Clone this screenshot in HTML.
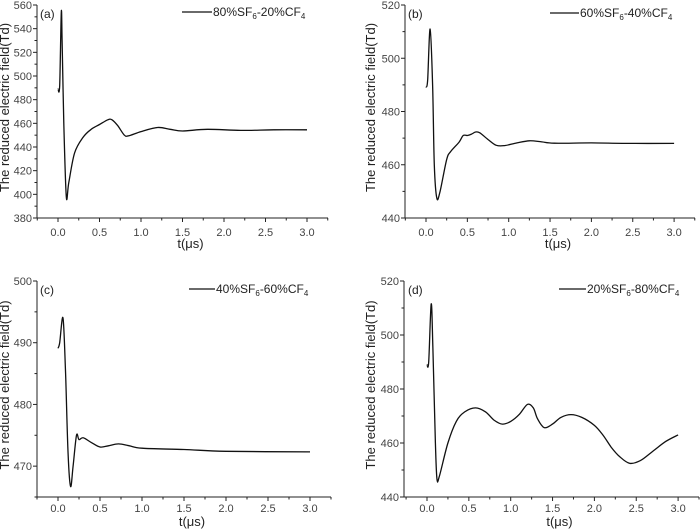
<!DOCTYPE html>
<html><head><meta charset="utf-8"><style>
html,body{margin:0;padding:0;background:#fff;}
svg{display:block;font-family:"Liberation Sans",Arial,sans-serif;}
</style></head><body>
<svg id="s" width="700" height="530" viewBox="0 0 700 530" xmlns="http://www.w3.org/2000/svg"></svg>
<script>
const NS="http://www.w3.org/2000/svg";
const s=document.getElementById('s');
function el(t,a,txt){const e=document.createElementNS(NS,t);for(const k in a)e.setAttribute(k,a[k]);if(txt!==undefined)e.innerHTML=txt;s.appendChild(e);return e;}
const panels=[
 {L:37,T:5,B:218,R:328,x0:58,sx:83,ymin:380,ymax:560,ystep:20,lab:'(a)',lx:40,tl:18,tt:30,
  leg:[182,212,12],mix:['80','20'],ytl:9,
  d:[[0,489],[0.02,492],[0.04,554],[0.05,530],[0.07,460],[0.1,398],[0.13,410],[0.2,435],[0.3,448],[0.4,455],[0.5,459],[0.6,463],[0.65,463],[0.72,458],[0.8,450],[0.85,449.5],[1.0,453],[1.2,456.5],[1.35,455],[1.5,453.5],[1.8,455],[2.2,454],[2.6,454.5],[3.0,454.5]]},
 {L:405,T:5,B:218,R:695,x0:426,sx:82.7,ymin:440,ymax:520,ystep:20,lab:'(b)',lx:408,tl:18,tt:30,
  leg:[550,579,13],mix:['60','40'],ytl:375,
  d:[[0,489],[0.02,492],[0.05,511],[0.08,490],[0.1,460],[0.13,447.5],[0.17,450],[0.25,462],[0.3,465],[0.4,468.5],[0.45,471],[0.5,471],[0.55,471.5],[0.6,472.3],[0.65,472],[0.75,469.5],[0.85,467.3],[0.95,467.2],[1.1,468.2],[1.25,469],[1.4,468.6],[1.55,468.1],[2.0,468.2],[2.5,468],[3.0,468]]},
 {L:37,T:281,B:497,R:331,x0:58,sx:84,ymin:465,ymax:500,ystep:10,lab:'(c)',lx:40,tl:15,tt:29,
  leg:[189,215,289],mix:['40','60'],ytl:9,
  d:[[0,489.1],[0.02,490],[0.06,494],[0.09,485],[0.12,472],[0.15,466.7],[0.18,470],[0.22,475],[0.25,474.3],[0.3,474.6],[0.4,473.8],[0.5,473.1],[0.6,473.3],[0.72,473.6],[0.85,473.3],[1.0,472.9],[1.5,472.7],[2.0,472.4],[3.0,472.3]]},
 {L:404,T:281,B:497,R:699,x0:427,sx:83.7,ymin:440,ymax:520,ystep:20,lab:'(d)',lx:408,tl:15,tt:29,
  leg:[559,586,289],mix:['20','80'],ytl:375,
  d:[[0,489],[0.02,490],[0.05,511.5],[0.07,495],[0.1,460],[0.12,446.5],[0.15,448],[0.25,460],[0.35,468],[0.45,471.5],[0.58,473],[0.7,471.5],[0.8,468.5],[0.9,467],[1.0,468],[1.1,470.5],[1.2,474.3],[1.27,473],[1.32,469],[1.4,465.7],[1.5,467],[1.6,469.5],[1.72,470.5],[1.85,469.5],[2.0,466.5],[2.1,463],[2.2,458.5],[2.3,455],[2.42,452.5],[2.55,453.5],[2.7,457],[2.85,460.5],[3.0,463]]}
];
function smooth(P){let d='M'+P[0][0].toFixed(1)+','+P[0][1].toFixed(1);
 for(let i=0;i<P.length-1;i++){const p0=P[i-1]||P[i],p1=P[i],p2=P[i+1],p3=P[i+2]||p2;
  const c1=[p1[0]+(p2[0]-p0[0])/6,p1[1]+(p2[1]-p0[1])/6],c2=[p2[0]-(p3[0]-p1[0])/6,p2[1]-(p3[1]-p1[1])/6];
  d+=' C'+c1.map(v=>v.toFixed(1))+' '+c2.map(v=>v.toFixed(1))+' '+p2.map(v=>v.toFixed(1));}
 return d;}
for(const p of panels){
 const sy=(p.B-p.T)/(p.ymax-p.ymin);
 const X=t=>p.x0+t*p.sx, Y=v=>p.B-(v-p.ymin)*sy;
 el('line',{x1:p.L,y1:p.T,x2:p.L,y2:p.B,stroke:'#222','stroke-width':1});
 el('line',{x1:p.L,y1:p.B,x2:p.R,y2:p.B,stroke:'#222','stroke-width':1});
 for(let t=-0.25;t<=3.26;t+=0.25){const x=X(t);const maj=Math.abs(t*2-Math.round(t*2))<1e-6;
  el('line',{x1:x,y1:p.B,x2:x,y2:p.B+(maj?4:2.5),stroke:'#222'});
  if(maj&&t>=0)el('text',{x:x,y:p.B+p.tl,'font-size':11,fill:'#444','text-anchor':'middle'},t.toFixed(1));}
 const st=p.ystep/2;
 for(let v=Math.ceil(p.ymin/st)*st;v<=p.ymax+1e-6;v+=st){const y=Y(v);const maj=Math.abs(v/p.ystep-Math.round(v/p.ystep))<1e-6;
  el('line',{x1:p.L,y1:y,x2:p.L-(maj?4:2.5),y2:y,stroke:'#222'});
  if(maj)el('text',{x:p.L-5,y:y+4,'font-size':11,fill:'#444','text-anchor':'end'},v);}
 el('path',{d:smooth(p.d.map(q=>[X(q[0]),Y(q[1])])),fill:'none',stroke:'#111','stroke-width':1.3,'stroke-linejoin':'round'});
 el('text',{x:p.lx,y:p.T+13,'font-size':12,fill:'#222'},p.lab);
 el('line',{x1:p.leg[0],y1:p.leg[2],x2:p.leg[1],y2:p.leg[2],stroke:'#111','stroke-width':1.3});
 el('text',{x:p.leg[1]+1,y:p.leg[2]+4,'font-size':12,fill:'#222'},p.mix[0]+'%SF<tspan font-size="8" dy="3">6</tspan><tspan dy="-3">-'+p.mix[1]+'%CF</tspan><tspan font-size="8" dy="3">4</tspan>');
 el('text',{x:(p.L+p.R)/2+8,y:p.B+p.tt,'font-size':13,fill:'#222','text-anchor':'middle'},'t(μs)');
 const cy=(p.T+p.B)/2;
 el('text',{x:p.ytl+4,y:cy,'font-size':13,fill:'#222','text-anchor':'middle',transform:`rotate(-90 ${p.ytl} ${cy})`},'The reduced electric field(Td)');
}
</script>
</body></html>
